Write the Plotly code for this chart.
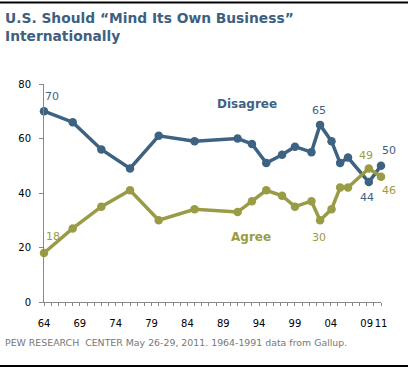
import plotly.graph_objects as go

years = [1964, 1968, 1972, 1976, 1980, 1985, 1991, 1993, 1995, 1997.2, 1999,
         2001.3, 2002.5, 2004.1, 2005.3, 2006.4, 2009.3, 2011]
disagree = [70, 66, 56, 49, 61, 59, 60, 58, 51, 54, 57, 55, 65, 59, 51, 53, 44, 50]
agree = [18, 27, 35, 41, 30, 34, 33, 37, 41, 39, 35, 37, 30, 34, 42, 42, 49, 46]

tick_vals = [1964, 1969, 1974, 1979, 1984, 1989, 1994, 1999, 2004, 2009, 2011]
tick_text = ["64", "69", "74", "79", "84", "89", "94", "99", "04", "09", "11"]

BLUE = "#3d6282"
GREEN = "#9a9c45"
FONT = "DejaVu Sans"

fig = go.Figure()
fig.add_trace(go.Scatter(x=years, y=disagree, mode="lines+markers",
                         line=dict(color=BLUE, width=3.5),
                         marker=dict(color=BLUE, size=8.5),
                         cliponaxis=False, hoverinfo="skip"))
fig.add_trace(go.Scatter(x=years, y=agree, mode="lines+markers",
                         line=dict(color=GREEN, width=3.5),
                         marker=dict(color=GREEN, size=8.5),
                         cliponaxis=False, hoverinfo="skip"))

# data labels: (series, index, colour, xshift, yshift)
labels = [
    (disagree, 0, BLUE, 8, 15),
    (agree, 0, GREEN, 9, 16),
    (disagree, 12, BLUE, -1, 14),
    (agree, 12, GREEN, -1, -17),
    (agree, 16, GREEN, -3, 13),
    (disagree, 16, BLUE, -2, -15),
    (disagree, 17, BLUE, 8, 15),
    (agree, 17, GREEN, 8, -14),
]
for series, i, col, xs, ys in labels:
    fig.add_annotation(x=years[i], y=series[i], text=str(series[i]),
                       showarrow=False, xshift=xs, yshift=ys,
                       font=dict(family=FONT, size=11, color=col))

fig.add_annotation(x=1992.3, y=72.5, text="<b>Disagree</b>", showarrow=False,
                   font=dict(family=FONT, size=12, color=BLUE))
fig.add_annotation(x=1992.85, y=24, text="<b>Agree</b>", showarrow=False,
                   font=dict(family=FONT, size=12, color=GREEN))

# title
fig.add_annotation(xref="paper", yref="paper", x=-41/337, y=1 + 76/218,
                   xanchor="left", yanchor="top", align="left", showarrow=False,
                   text="<b>U.S. Should “Mind Its Own Business”<br>Internationally</b>",
                   font=dict(family=FONT, size=13.8, color="#3f5f7f"))
# footer
fig.add_annotation(xref="paper", yref="paper", x=-41/337, y=-33/218,
                   xanchor="left", yanchor="top", showarrow=False,
                   text="PEW RESEARCH  CENTER May 26-29, 2011. 1964-1991 data from Gallup.",
                   font=dict(family=FONT, size=9.4, color="#777777"))

fig.update_layout(
    width=408, height=369,
    margin=dict(l=43.5, r=27, t=84, b=67),
    paper_bgcolor="white", plot_bgcolor="white",
    showlegend=False,
    shapes=[
        dict(type="line", xref="paper", yref="paper", x0=-44/337, x1=1 + 27/337,
             y0=1 + 81.5/218, y1=1 + 81.5/218, line=dict(color="black", width=2)),
        dict(type="line", xref="paper", yref="paper", x0=-44/337, x1=1 + 27/337,
             y0=-64/218, y1=-64/218, line=dict(color="black", width=2)),
    ],
    xaxis=dict(range=[1964, 2011], showgrid=False, zeroline=False,
               showline=True, linecolor="#888888", linewidth=1,
               tickvals=tick_vals, ticktext=tick_text, ticks="outside",
               ticklen=3, tickcolor="#888888", tickangle=0, automargin=False,
               ticklabelstandoff=9,
               minor=dict(dtick=1, tick0=1964, ticks="outside", ticklen=3,
                          tickcolor="#888888"),
               tickfont=dict(family=FONT, size=10, color="black")),
    yaxis=dict(range=[0, 80], showgrid=False, zeroline=False,
               showline=True, linecolor="#888888", linewidth=1,
               tickvals=[0, 20, 40, 60, 80], ticks="outside", ticklen=4,
               tickcolor="#888888", automargin=False, ticklabelstandoff=6,
               tickfont=dict(family=FONT, size=10, color="black")),
)

fig.write_html("out.html", config={"displayModeBar": False},
               post_script="document.body.style.margin='0';")
